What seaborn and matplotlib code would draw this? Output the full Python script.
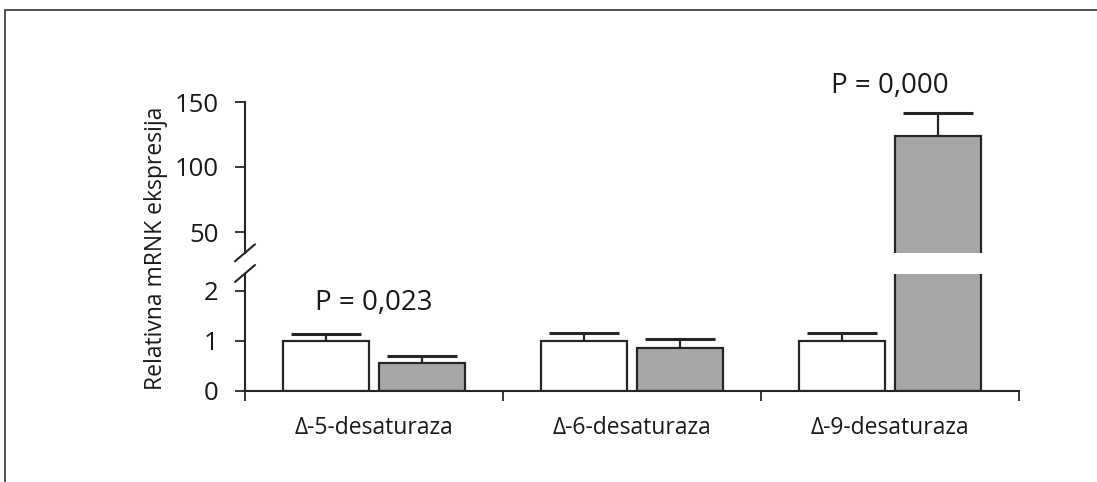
import matplotlib
matplotlib.use("Agg")
import matplotlib.pyplot as plt
import matplotlib.patches as mpatches
import seaborn as sns
import pandas as pd

categories = ["Δ-5-desaturaza", "Δ-6-desaturaza", "Δ-9-desaturaza"]
groups = ["Kontrola", "Tretman"]
means_ctrl = [1.0, 1.0, 1.0]
means_trt = [0.57, 0.87, 123.8]
err_ctrl = [0.15, 0.17, 0.17]
err_trt = [0.13, 0.17, 18.0]
p_labels = ["P = 0,023", "", "P = 0,000"]
y_label = "Relativna mRNK ekspresija"
lower_ticks = [0, 1, 2]
upper_ticks = [50, 100, 150]

rows = []
for i, c in enumerate(categories):
    rows.append({"kat": c, "grupa": groups[0], "v": means_ctrl[i], "e": err_ctrl[i]})
    rows.append({"kat": c, "grupa": groups[1], "v": means_trt[i], "e": err_trt[i]})
df = pd.DataFrame(rows)

sns.set_theme(style="white")
plt.rcParams["font.family"] = ["Open Sans", "DejaVu Sans"]
TXT = "#1a1a1a"
EDGE = "#262626"

fig = plt.figure(figsize=(10.97, 4.82), dpi=100)
W, H = 1097, 482
left = 245 / W
width = 774 / W
ax_lo = fig.add_axes([left, (H - 391) / H, width, 117.5 / H])
ax_hi = fig.add_axes([left, (H - 252.8) / H, width, (252.8 - 102) / H])

for ax in (ax_lo, ax_hi):
    sns.barplot(data=df, x="kat", y="v", hue="grupa", order=categories,
                hue_order=groups, palette=["white", "#a6a6a6"], edgecolor=EDGE,
                linewidth=1.6, errorbar=None, width=0.75, gap=0.11,
                legend=False, ax=ax)
    for p in list(ax.patches):
        xc = p.get_x() + p.get_width() / 2
        ci = int(round(xc))
        gi = 0 if xc < ci else 1
        r = df[(df.kat == categories[ci]) & (df.grupa == groups[gi])].iloc[0]
        eb = ax.errorbar(xc, r.v, yerr=[[0], [r.e]], fmt="none", ecolor=EDGE,
                         elinewidth=1.6, capsize=25, capthick=2.2, zorder=1)
        caps = eb[1]
        if len(caps) == 2:
            caps[0].set_visible(False)
    ax.set_xlim(-0.5, 2.5)
    ax.set_xlabel("")
    ax.set_ylabel("")
    for s in ("top", "right"):
        ax.spines[s].set_visible(False)
    ax.spines["left"].set_color(EDGE)
    ax.spines["left"].set_linewidth(1.5)
    ax.tick_params(axis="y", direction="out", length=7, width=1.3, color=EDGE,
                   labelsize=18.5, labelcolor=TXT, left=True, pad=12)

ax_lo.set_ylim(0, 2.35)
ax_lo.set_yticks(lower_ticks)
ax_hi.set_ylim(34, 150)
ax_hi.set_yticks(upper_ticks)
ax_hi.spines["bottom"].set_visible(False)
ax_hi.set_xticks([])

ax_lo.spines["bottom"].set_color(EDGE)
ax_lo.spines["bottom"].set_linewidth(1.5)
ax_lo.set_xticks([0, 1, 2])
ax_lo.set_xticklabels(categories)
ax_lo.tick_params(axis="x", which="major", length=0, labelsize=16.5,
                  labelcolor=TXT, pad=18)
ax_lo.set_xticks([-0.5, 0.5, 1.5, 2.5], minor=True)
ax_lo.tick_params(axis="x", which="minor", direction="out", length=7,
                  width=1.3, color=EDGE, bottom=True)

# P-values
ax_lo.text(0, 1.75, p_labels[0], ha="center", va="center", fontsize=20, color=TXT)
ax_hi.text(2, 162.5, p_labels[2], ha="center", va="center", fontsize=20, color=TXT,
           clip_on=False)

# axis break marks
for ax, yy in ((ax_hi, 0.0), (ax_lo, 1.0)):
    tr = ax.transAxes
    bb = ax.get_position()
    dx = 10 / (bb.width * W)
    dy = 8.5 / (bb.height * H)
    ax.plot([-dx, dx], [yy - dy, yy + dy], transform=tr, color=EDGE,
            lw=1.5, clip_on=False)

fig.text(156 / W, 1 - 248 / H, y_label, rotation=90, ha="center", va="center",
         fontsize=16.5, color=TXT)

# outer frame (top and left visible)
fig.add_artist(mpatches.Rectangle((5 / W, -0.2), 1.2, 1.2 - 10 / H + 0.0,
                                  transform=fig.transFigure, fill=False,
                                  edgecolor="#333333", linewidth=1.2))

fig.savefig("out.png", dpi=100)
